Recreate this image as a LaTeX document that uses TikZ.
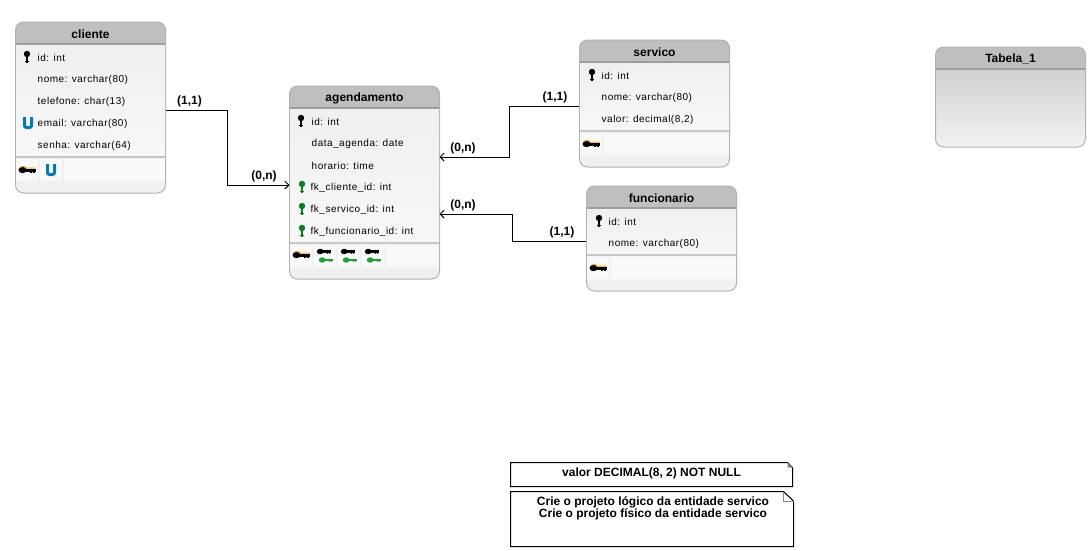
\documentclass[tikz,border=0pt]{standalone}
\usepackage{fontspec}
\setmainfont{Liberation Sans}
\usetikzlibrary{arrows.meta}
\tikzset{
  vkey/.pic={
    \fill[#1] (0,-3) ellipse (3.2 and 3.2);
    \fill[#1] (-1.4,-3) rectangle (1.4,6);
    \fill[#1] (-2.2,3.5) rectangle (2.2,5);
  },
  hkey/.pic={
    \fill[#1] (-4.5,0) ellipse (4 and 3.2);
    \fill[#1] (-5,-1.5) rectangle (8.5,1.5);
    \fill[#1] (3,1) rectangle (4.5,2.6);
    \fill[#1] (6,1) rectangle (7.5,2.6);
  },
  pkkey/.pic={
    \pic {hkey=black};
    \draw[keyorange,line width=1pt] (-7,-3) -- (-3,-3.5) -- (-.5,-1.9) -- (8.5,-1.9);
  },
  fkpair/.pic={
    \pic[scale=.85] at (-1,-4.5) {hkey=black};
    \pic[scale=.85] at (1,4) {hkey=keygreen};
  },
  uidx/.pic={
    \draw[uniqueblue,line width=3pt,rounded corners=2pt] (-3.5,-6) -- (-3.5,4.5) -- (3.5,4.5) -- (3.5,-6);
  }
}
\definecolor{keygreen}{HTML}{22A03C}
\definecolor{keyorange}{HTML}{F0A020}
\definecolor{fkgreen}{HTML}{0F7A2A}
\definecolor{uniqueblue}{HTML}{0A78B0}
\definecolor{cellwhite}{HTML}{F9F9F9}
\begin{document}
\begin{tikzpicture}[x=1pt,y=-1pt]
  \tikzstyle{tablebox}=[draw=black!30,line width=1pt,rounded corners=8pt,minimum width=150pt,inner sep=0pt,
    fill=black!6,
    path picture={\fill[black!25,sharp corners] (path picture bounding box.north west) rectangle ([yshift=-22pt]path picture bounding box.north east);
      \fill[black!38,sharp corners] ([yshift=-21pt]path picture bounding box.north west) rectangle ([yshift=-22.5pt]path picture bounding box.north east);}]
  \tikzstyle{emptybox}=[draw=black!30,line width=1pt,rounded corners=8pt,minimum width=150pt,inner sep=0pt,
    top color=black!22,bottom color=black!5,
    path picture={\fill[black!25,sharp corners] (path picture bounding box.north west) rectangle ([yshift=-22pt]path picture bounding box.north east);
      \fill[black!38,sharp corners] ([yshift=-21pt]path picture bounding box.north west) rectangle ([yshift=-22.5pt]path picture bounding box.north east);}]
  \tikzstyle{tabletitle}=[font=\fontsize{12}{14}\selectfont\bfseries,inner sep=0pt,yshift=-.7pt]
  \tikzstyle{attr}=[anchor=west,inner sep=0pt,yshift=-.6pt,font=\fontsize{10}{12}\selectfont\addfontfeature{LetterSpace=5}]
  \tikzstyle{rowbg}=[top color=black!6,bottom color=black!3,draw=none]
  \tikzstyle{cell}=[fill=cellwhite,draw=none]
  \tikzstyle{rowsep}=[fill=black!22,draw=none]
  \tikzstyle{edge}=[draw,line width=1pt,shorten >=-.5pt,-{Straight Barb[length=4pt,width=8pt]}]
  \tikzstyle{card}=[font=\fontsize{12}{14}\selectfont\bfseries,inner sep=0pt,yshift=-.7pt]
  \tikzstyle{notetext}=[font=\fontsize{12}{12}\selectfont\bfseries,inner sep=0pt,align=center,yshift=-1pt]
  \useasboundingbox (0,0) rectangle (1089,550);
  \fill[white] (0,0) rectangle (1089,550);
  % cliente
  \begin{scope}[shift={(15.5,22)}]
    \node [tablebox,minimum height=171pt] (cliente) at (75,85.5) {};
    \fill[rowbg] (0.5,23) rectangle (149.5,134);
    \node [tabletitle] (cliente_title) at (75,11.5) {cliente};
    \pic at (11.5,35) {vkey=black};
    \node [attr] (cliente_id) at (22,35) {id: int};
    \node [attr] (cliente_nome) at (22,57) {nome: varchar(80)};
    \node [attr] (cliente_telefone) at (22,79) {telefone: char(13)};
    \pic at (12.5,101) {uidx};
    \node [attr] (cliente_email) at (22,101) {email: varchar(80)};
    \node [attr] (cliente_senha) at (22,123) {senha: varchar(64)};
    \fill[rowsep] (0.5,134) rectangle (149.5,136);
    \fill[cell] (0.5,136.5) rectangle (22.5,159);
    \fill[cell] (24.5,136.5) rectangle (46.5,159);
    \fill[cell] (48.5,136.5) rectangle (149.5,159);
    \pic at (11.5,148) {pkkey};
    \pic at (35.5,148) {uidx};
  \end{scope}
  % agendamento
  \begin{scope}[shift={(289.5,86)}]
    \node [tablebox,minimum height=193pt] (agendamento) at (75,96.5) {};
    \fill[rowbg] (0.5,23) rectangle (149.5,156);
    \node [tabletitle] (agendamento_title) at (75,11.5) {agendamento};
    \pic at (11.5,35) {vkey=black};
    \node [attr] (agendamento_id) at (22,35) {id: int};
    \node [attr] (agendamento_data) at (22,57) {data\_agenda: date};
    \node [attr] (agendamento_horario) at (22,79) {horario: time};
    \pic at (12.5,101) {vkey=fkgreen};
    \node [attr] (agendamento_fk1) at (21,101) {fk\_cliente\_id: int};
    \pic at (12.5,123) {vkey=fkgreen};
    \node [attr] (agendamento_fk2) at (21,123) {fk\_servico\_id: int};
    \pic at (12.5,145) {vkey=fkgreen};
    \node [attr] (agendamento_fk3) at (21,145) {fk\_funcionario\_id: int};
    \fill[rowsep] (0.5,156) rectangle (149.5,158);
    \fill[cell] (0.5,158.5) rectangle (22.5,181);
    \fill[cell] (24.5,158.5) rectangle (46.5,181);
    \fill[cell] (48.5,158.5) rectangle (70.5,181);
    \fill[cell] (72.5,158.5) rectangle (94.5,181);
    \fill[cell] (96.5,158.5) rectangle (149.5,181);
    \pic at (11.5,169) {pkkey};
    \pic at (35.5,170) {fkpair};
    \pic at (59.5,170) {fkpair};
    \pic at (83.5,170) {fkpair};
  \end{scope}
  % servico
  \begin{scope}[shift={(579.5,40)}]
    \node [tablebox,minimum height=127pt] (servico) at (75,63.5) {};
    \fill[rowbg] (0.5,23) rectangle (149.5,90);
    \node [tabletitle] (servico_title) at (75,11.5) {servico};
    \pic at (12.5,35) {vkey=black};
    \node [attr] (servico_id) at (22,35) {id: int};
    \node [attr] (servico_nome) at (22,57) {nome: varchar(80)};
    \node [attr] (servico_valor) at (22,79) {valor: decimal(8,2)};
    \fill[rowsep] (0.5,90) rectangle (149.5,92);
    \fill[cell] (0.5,92.5) rectangle (22.5,115);
    \fill[cell] (24.5,92.5) rectangle (149.5,115);
    \pic at (11.5,104) {pkkey};
  \end{scope}
  % funcionario
  \begin{scope}[shift={(586.5,186)}]
    \node [tablebox,minimum height=105pt] (funcionario) at (75,52.5) {};
    \fill[rowbg] (0.5,23) rectangle (149.5,68);
    \node [tabletitle] (funcionario_title) at (75,11.5) {funcionario};
    \pic at (12.5,35) {vkey=black};
    \node [attr] (funcionario_id) at (22,35) {id: int};
    \node [attr] (funcionario_nome) at (22,57) {nome: varchar(80)};
    \fill[rowsep] (0.5,68) rectangle (149.5,70);
    \fill[cell] (0.5,70.5) rectangle (22.5,93);
    \fill[cell] (24.5,70.5) rectangle (149.5,93);
    \pic at (11.5,82) {pkkey};
  \end{scope}
  % Tabela_1
  \begin{scope}[shift={(935.5,47)}]
    \node [emptybox,minimum height=100pt] (tabela) at (75,50) {};
    \node [tabletitle] (tabela_title) at (75,11.5) {Tabela\_1};
  \end{scope}
  % ligacoes
  \path[edge] ([yshift=-2.5pt]cliente.east) -- ++(61.5,0) |- ([yshift=-2.5pt]agendamento.west);
  \path[edge] ([yshift=-2.5pt]servico.west) -- ++(-70,0) |- ([yshift=25.5pt]agendamento.east);
  \path[edge] ([yshift=-2.5pt]funcionario.west) -- ++(-73.5,0) |- ([yshift=-31.5pt]agendamento.east);
  \node [card] (card1) at (189.5,101) {(1,1)};
  \node [card] (card2) at (264,175.5) {(0,n)};
  \node [card] (card3) at (555,97) {(1,1)};
  \node [card] (card4) at (463,148) {(0,n)};
  \node [card] (card5) at (463,205) {(0,n)};
  \node [card] (card6) at (562,232) {(1,1)};
  % notas
  \draw[line width=1pt] (510.5,462.5) -- (787.5,462.5) -- (792.5,467.5) -- (792.5,486.5) -- (510.5,486.5) -- cycle;
  \fill[black!45] (787.5,462.5) -- (792.5,467.5) -- (787.5,467.5) -- cycle;
  \node [notetext] (note1) at (651.5,472.6) {valor DECIMAL(8, 2) NOT NULL};
  \draw[line width=1pt] (510.5,491.5) -- (783.5,491.5) -- (793.5,501) -- (793.5,546.5) -- (510.5,546.5) -- cycle;
  \draw[black!45,line width=1pt] (783.5,491.5) -- (783.5,501) -- (793.5,501);
  \node [notetext] (note2) at (653,507) {Crie o projeto lógico da entidade servico\\Crie o projeto físico da entidade servico};
\end{tikzpicture}
\end{document}
